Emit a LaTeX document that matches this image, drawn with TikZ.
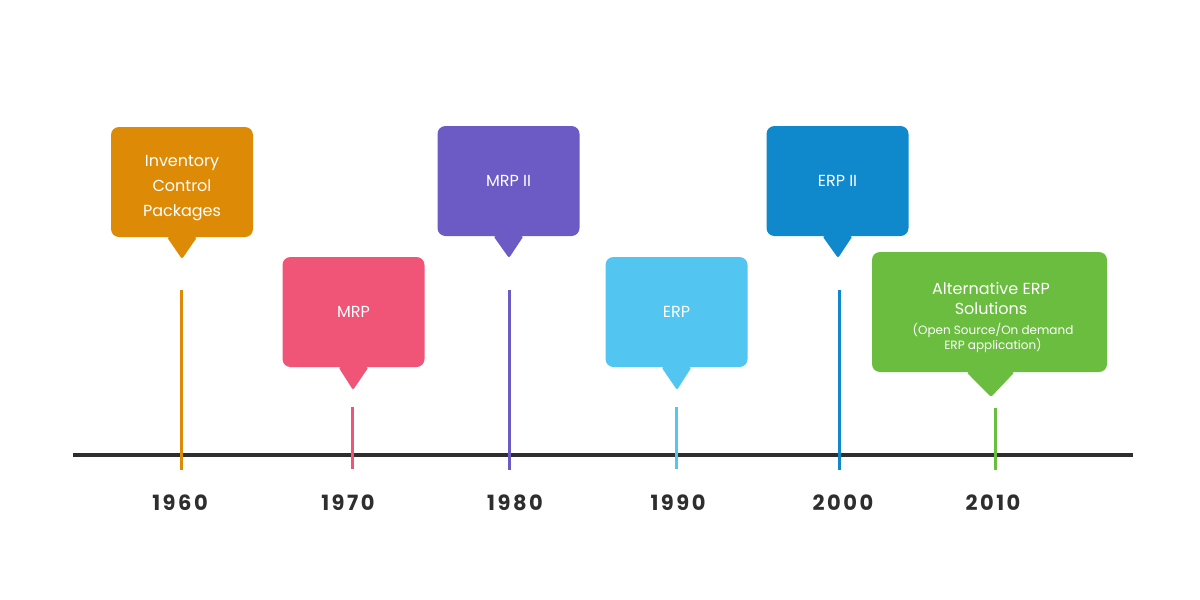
\documentclass[tikz,border=0pt]{standalone}
\usepackage{fontspec}
\setmainfont{Poppins}
\definecolor{corange}{HTML}{DD8A06}
\definecolor{cpink}{HTML}{F05577}
\definecolor{cpurple}{HTML}{6C5BC5}
\definecolor{clight}{HTML}{52C6F1}
\definecolor{cblue}{HTML}{0F89CB}
\definecolor{cgreen}{HTML}{6BBD40}
\definecolor{cdark}{HTML}{2E2E2E}
\tikzset{
  callout/.style={rounded corners=8pt, minimum width=142pt, minimum height=110pt,
    text=white, align=center, inner sep=0pt, font=\fontsize{16}{25}\selectfont},
  tick/.style={line width=3pt},
  year/.style={font=\fontsize{21}{24}\selectfont\bfseries\addfontfeature{LetterSpace=12}, text=cdark},
}
\begin{document}
\begin{tikzpicture}[x=1pt,y=-1pt]
\useasboundingbox[fill=white] (0,0) rectangle (1200,600);
% axis
\coordinate (axL) at (73,455);
\coordinate (axR) at (1133,455);
\draw[cdark, line width=4pt] (axL) -- (axR);
% ticks
\coordinate (t1a) at (181,290); \coordinate (t1b) at (181,470);
\coordinate (t2a) at (352,407); \coordinate (t2b) at (352,469);
\coordinate (t3a) at (509,290); \coordinate (t3b) at (509,470);
\coordinate (t4a) at (676,407); \coordinate (t4b) at (676,469);
\coordinate (t5a) at (839,290); \coordinate (t5b) at (839,470);
\coordinate (t6a) at (995,408); \coordinate (t6b) at (995,470);
\draw[tick, corange] (t1a) -- (t1b);
\draw[tick, cpink] (t2a) -- (t2b);
\draw[tick, cpurple] (t3a) -- (t3b);
\draw[tick, clight] (t4a) -- (t4b);
\draw[tick, cblue] (t5a) -- (t5b);
\draw[tick, cgreen] (t6a) -- (t6b);
% callouts
\node[callout, fill=corange] (inv) at (182,182) {};
\node[text=white, align=center, font=\fontsize{16}{25}\selectfont] (invt) at (182,188) {Inventory\\Control\\Packages};
\coordinate (p1) at (182,259);
\fill[corange, rounded corners=2pt] ([xshift=-15pt]inv.south) -- (p1) -- ([xshift=15pt]inv.south) -- cycle;

\node[callout, fill=cpink] (mrp) at (353.5,312) {MRP};
\coordinate (p2) at (353,390);
\fill[cpink, rounded corners=2pt] ([xshift=-15pt]mrp.south) -- (p2) -- ([xshift=15pt]mrp.south) -- cycle;

\node[callout, fill=cpurple] (mrp2) at (508.5,181) {MRP II};
\coordinate (p3) at (509,258);
\fill[cpurple, rounded corners=2pt] ([xshift=-15pt]mrp2.south) -- (p3) -- ([xshift=15pt]mrp2.south) -- cycle;

\node[callout, fill=clight] (erp) at (676.5,312) {ERP};
\coordinate (p4) at (677,390);
\fill[clight, rounded corners=2pt] ([xshift=-15pt]erp.south) -- (p4) -- ([xshift=15pt]erp.south) -- cycle;

\node[callout, fill=cblue] (erp2) at (837.5,181) {ERP II};
\coordinate (p5) at (838,258);
\fill[cblue, rounded corners=2pt] ([xshift=-15pt]erp2.south) -- (p5) -- ([xshift=15pt]erp2.south) -- cycle;

\node[callout, fill=cgreen, minimum width=235pt, minimum height=120pt] (alt) at (989.5,312) {};
\node[text=white, align=center, font=\fontsize{16}{20}\selectfont] (altt) at (991,298) {Alternative ERP\\Solutions};
\node[text=white, align=center, font=\fontsize{12}{15}\selectfont] (alts) at (993,338) {(Open Source/On demand\\ERP application)};
\coordinate (p6) at (991,397);
\fill[cgreen, rounded corners=2pt] ([xshift=-23pt]alt.south) -- (p6) -- ([xshift=25pt]alt.south) -- cycle;
% years
\node[year] (y1) at (180,503) {1960};
\node[year] (y2) at (348,503) {1970};
\node[year] (y3) at (515,503) {1980};
\node[year] (y4) at (678,503) {1990};
\node[year] (y5) at (843,503) {2000};
\node[year] (y6) at (993,503) {2010};
\end{tikzpicture}
\end{document}
